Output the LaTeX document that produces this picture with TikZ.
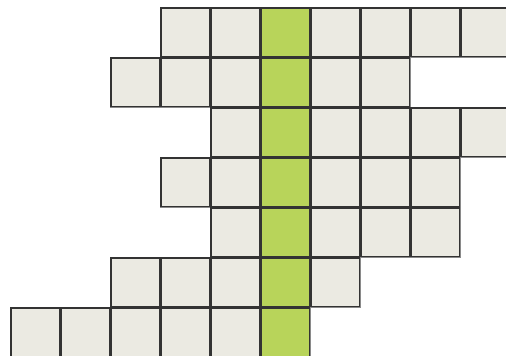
\documentclass[tikz,border=0pt]{standalone}
\usetikzlibrary{calc}
\definecolor{colCellFill}{HTML}{EBEAE2}
\definecolor{colCellStroke}{HTML}{333333}
\definecolor{colCellHalo}{HTML}{8A8A8A}
\definecolor{colMidFill}{HTML}{B8D45A}

\begin{document}
\begin{tikzpicture}[x=1pt, y=-1pt]
  % Parameters
  \def\cellSize{50}
  \def\cellGap{1.5}
  \def\leftX{11}
  \def\topY{8}
  \def\midCol{5}

  \useasboundingbox (0,0) rectangle (506,356);
  \clip (0,0) rectangle (506,356);

  % Rows of cells: row / first column / last column
  \foreach \r/\a/\b in {0/3/9, 1/2/7, 2/4/9, 3/3/8, 4/4/8, 5/2/6, 6/0/5} {
    \foreach \c in {\a,...,\b} {
      \ifnum\c=\midCol
        \def\cellCol{colMidFill}
      \else
        \def\cellCol{colCellFill}
      \fi
      % halo, then the cell itself
      \draw[colCellHalo, line width=2.6pt]
        ({\leftX+\c*\cellSize}, {\topY+\r*\cellSize}) rectangle ++({\cellSize-\cellGap}, {\cellSize-\cellGap});
      \draw[fill=\cellCol, draw=colCellStroke, line width=1.1pt]
        ({\leftX+\c*\cellSize}, {\topY+\r*\cellSize}) rectangle ++({\cellSize-\cellGap}, {\cellSize-\cellGap});
    }
  }
\end{tikzpicture}
\end{document}
